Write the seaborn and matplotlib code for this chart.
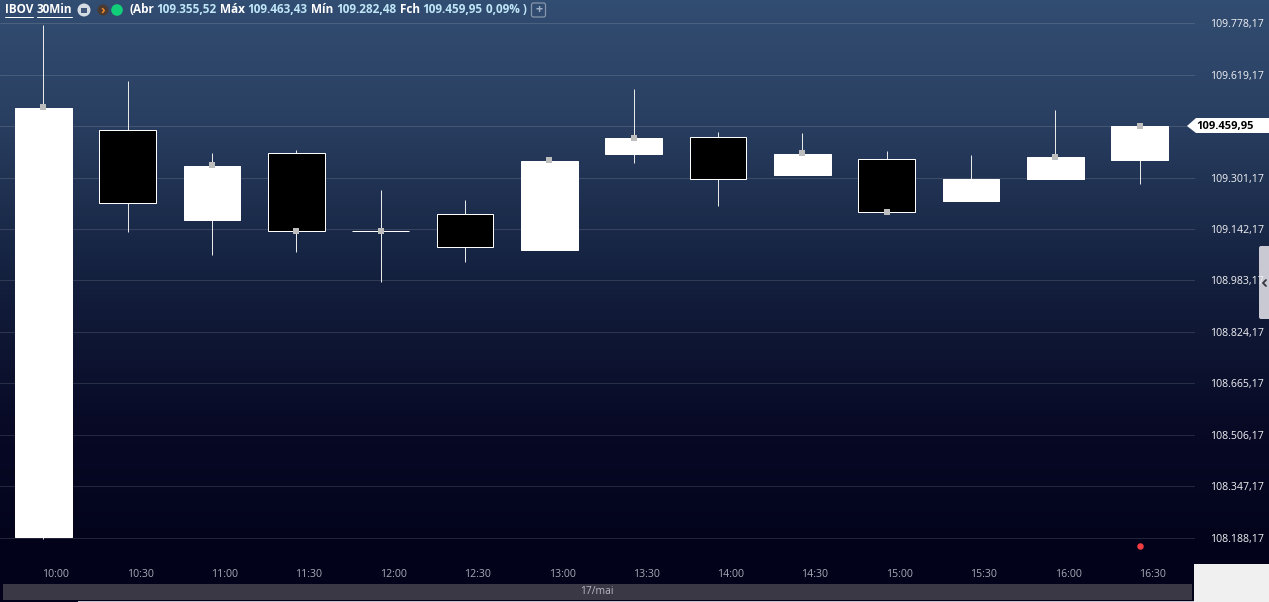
import numpy as np
import pandas as pd
import matplotlib
matplotlib.use("Agg")
import matplotlib.pyplot as plt
from matplotlib.colors import LinearSegmentedColormap
from matplotlib.patches import Polygon, Rectangle, FancyBboxPatch, Circle
import seaborn as sns

times = ["10:00","10:30","11:00","11:30","12:00","12:30","13:00","13:30","14:00","14:30","15:00","15:30","16:00","16:30"]
opens = [108191.3,109449.1,109170.9,109378.0,109136.9,109189.5,109078.2,109374.9,109427.4,109310.0,109359.4,109229.7,109297.6,109355.52]
closes = [109517.0,109223.4,109337.8,109136.9,109136.9,109087.5,109353.2,109424.3,109297.6,109374.9,109195.7,109297.6,109365.6,109459.95]
highs = [109773.5,109600.5,109378.0,109387.2,109263.6,109232.7,109359.0,109575.8,109442.9,109439.8,109384.2,109371.8,109510.9,109463.43]
lows = [108185.0,109133.8,109062.8,109072.0,108979.3,109041.1,109078.2,109347.1,109214.2,109310.0,109195.7,109229.7,109297.6,109282.48]
marker_idx = [0,2,3,4,6,7,9,10,12,13]
marker_vals = [109518.0,109339.0,109136.9,109136.9,109354.0,109425.0,109376.0,109195.7,109366.0,109460.0]
y_ticks = [109778.17,109619.17,109460.17,109301.17,109142.17,108983.17,108824.17,108665.17,108506.17,108347.17,108188.17]
y_labels = ["109.778,17","109.619,17","","109.301,17","109.142,17","108.983,17","108.824,17","108.665,17","108.506,17","108.347,17","108.188,17"]
last_close_label = "109.459,95"
date_label = "17/mai"
header = [("IBOV",5,"white"),("30Min",37,"white"),("(Abr",129,"white"),("109.355,52",156,"#bfe6f7"),
          ("Máx",220,"white"),("109.463,43",247.5,"#bfe6f7"),("Mín",311,"white"),("109.282,48",336,"#bfe6f7"),
          ("Fch",400,"white"),("109.459,95",422,"#bfe6f7"),("0,09% )",486,"#bfe6f7")]

sns.set_theme(style="dark")
plt.rcParams["font.family"] = ["Open Sans", "DejaVu Sans"]

W, H = 1269, 602
fig = plt.figure(figsize=(W/100, H/100), dpi=100, facecolor="#02021a")

bg = fig.add_axes([0, 0, 1, 1], zorder=0)
cmap = LinearSegmentedColormap.from_list("bg", [(0,"#324d72"),(0.2,"#2a4062"),(0.5,"#131f3d"),(0.75,"#080a26"),(1,"#02021a")])
bg.imshow(np.linspace(0, 1, 564).reshape(-1, 1), aspect="auto", cmap=cmap, extent=(0, W, 564, 0))
bg.set_xlim(0, W); bg.set_ylim(H, 0); bg.axis("off")
bg.add_patch(Rectangle((1194, 564), 75, 38, color="#f0f0f0", lw=0))
bg.add_patch(Rectangle((3, 584), 1189, 16, color="#393844", lw=0))
bg.add_patch(Rectangle((78, 600.5), 1116, 1.5, color="#c4c4cc", lw=0))
bg.add_patch(FancyBboxPatch((1259,246),12,73,boxstyle="round,pad=0,rounding_size=2",color="#c8c9d2",lw=0))
bg.text(597, 592, date_label, color="#b9b9c2", fontsize=7.4, ha="center", va="center")

ax = fig.add_axes([0, 38/H, 1195/W, 564/H], zorder=1, facecolor="none")
df = pd.DataFrame({"i": np.arange(len(times)), "o": opens, "c": closes, "h": highs, "l": lows})
df["bottom"] = df[["o","c"]].min(axis=1)
df["height"] = (df["c"]-df["o"]).abs()
df["up"] = df["c"] > df["o"]

for v in y_ticks:
    ax.axhline(v, color="#ffffff", alpha=0.13, lw=0.72, zorder=1)
ax.vlines(df["i"], df["l"], df["h"], color="#e8e8e8", lw=0.72, zorder=2)
sns.barplot(data=df, x="i", y="height", bottom=df["bottom"].values, native_scale=True, width=0.67,
            color="white", saturation=1, edgecolor="white", linewidth=0.72, errorbar=None, ax=ax, zorder=3)
for p, up in zip(ax.patches, df["up"]):
    p.set_facecolor("white" if up else "black")
sns.scatterplot(x=marker_idx, y=marker_vals, marker="s", s=18, color="#bdbdbd", linewidth=0, ax=ax, zorder=4)
sns.scatterplot(x=[13], y=[108163.0], marker="o", s=22, color="#f03c42", linewidth=0, ax=ax, zorder=4)

ax.set_xlim(-0.513, 13.655)
ax.set_ylim(108107.0, 109850.0)
ax.set_xlabel(""); ax.set_ylabel("")
ax.set_xticks(df["i"] + 0.15, times)
ax.set_yticks(y_ticks, y_labels)
ax.yaxis.tick_right()
ax.tick_params(axis="y", length=0, pad=10.5, labelsize=7.6, colors="#f2f2f5")
ax.tick_params(axis="x", length=0, pad=3.5, labelsize=7.6, colors="#a9a9b5")
for t in ax.get_yticklabels():
    t.set_va("center_baseline")
ax.grid(False)
for s in ax.spines.values():
    s.set_visible(False)

ov = fig.add_axes([0, 0, 1, 1], zorder=2, facecolor="none")
ov.set_xlim(0, W); ov.set_ylim(H, 0); ov.axis("off")
ov.add_patch(Polygon([(1187,126),(1196,118),(1269,118),(1269,133),(1196,133)], color="white", lw=0))
ov.text(1196, 126, last_close_label, color="black", fontsize=8, fontweight="bold", va="center")
ov.plot([1266,1263,1266],[280,283,286], color="#33343c", lw=1.3)
for label, x, col in header:
    ov.text(x, 9.5, label, color=col, fontsize=8.5, fontweight="bold", va="center")
ov.plot([5,33],[16.5,16.5], color="white", lw=0.72)
ov.plot([37,72],[16.5,16.5], color="white", lw=0.72)
ov.add_patch(Circle((84,10),6.5,color="#d5dbe3",lw=0))
ov.add_patch(Rectangle((81,7.5),6,5,color="#42567a",lw=0))
ov.add_patch(Circle((103,10),5.5,color="#4a3a32",lw=0))
ov.text(103,10,"›",color="#f08a2c",fontsize=9,fontweight="bold",ha="center",va="center")
ov.add_patch(Circle((117,10),5.8,color="#10cf78",lw=0))
ov.add_patch(FancyBboxPatch((531.5,3),14,14,boxstyle="round,pad=0,rounding_size=2",fc="none",ec="#8696aa",lw=0.9))
ov.text(538.5,10,"+",color="#9fb0c4",fontsize=9,fontweight="bold",ha="center",va="center")

fig.savefig("out.png", dpi=100)
